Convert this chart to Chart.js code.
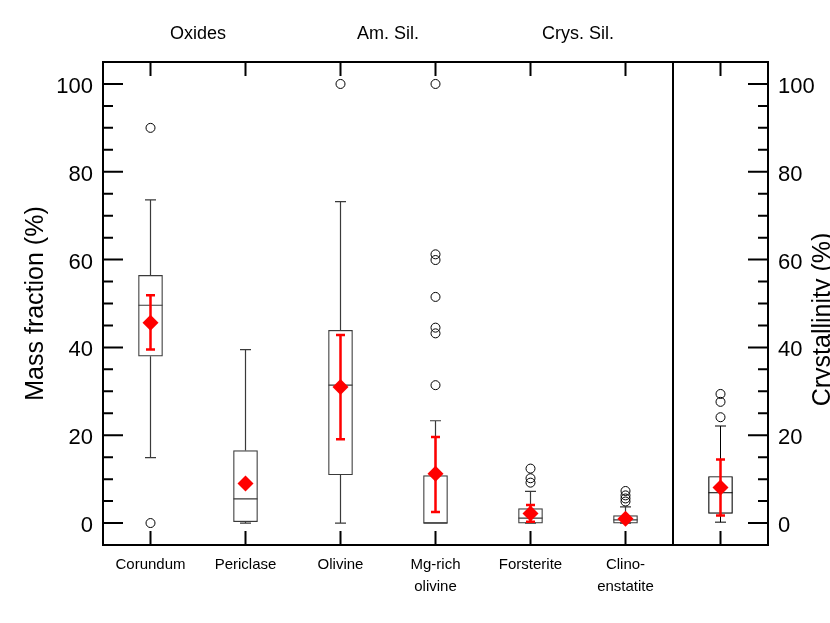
<!DOCTYPE html>
<html lang="en">
<head>
    <meta charset="UTF-8">
    <title>Mass fraction and crystallinity</title>
    <script src="https://cdn.jsdelivr.net/npm/chart.js"></script>
    <style>
        body { margin: 0; background: #fff; }
        .wrap { width: 830px; height: 623px; position: relative; }
    </style>
</head>
<body>
<div class="wrap"><canvas id="boxChart"></canvas></div>
<script>
    // categories (last one is the crystallinity panel, no label under it)
    const categories = ['Corundum', 'Periclase', 'Olivine', 'Mg-rich olivine', 'Forsterite', 'Clino-enstatite', 'Crystallinity'];
    const tickLabels = [['Corundum'], ['Periclase'], ['Olivine'], ['Mg-rich', 'olivine'], ['Forsterite'], ['Clino-', 'enstatite'], ''];
    const groupLabels = ['Oxides', 'Am. Sil.', 'Crys. Sil.'];
    const yTicks = [0, 20, 40, 60, 80, 100];

    // box plot values (%)
    const whiskerLow  = [14.9, 0.0, 0.0, 0.0, 0.0, 0.0, 0.2];
    const q1          = [38.0, 0.3, 11.0, 0.0, 0.0, 0.0, 2.2];
    const median      = [49.6, 5.5, 31.4, 0.0, 1.1, 0.7, 6.9];
    const q3          = [56.4, 16.5, 43.9, 10.8, 3.3, 1.7, 10.6];
    const whiskerHigh = [73.6, 39.5, 73.2, 23.3, 7.2, 3.7, 22.1];
    const outliers = [
        [90.0, 0.0],
        [],
        [100.0],
        [100.0, 61.2, 59.9, 51.5, 44.5, 43.2, 31.4],
        [12.4, 10.2, 9.2],
        [7.3, 6.3, 5.6, 4.9],
        [29.4, 27.6, 24.1]
    ];

    // mean and its error bar
    const meanValues = [45.6, 9.0, 31.0, 11.2, 2.2, 1.0, 8.1];
    const errLow     = [39.5, null, 19.1, 2.5, 0.3, null, 1.7];
    const errHigh    = [51.9, null, 42.8, 19.6, 4.1, null, 14.5];

    const FONT = "'Liberation Sans', Arial, Helvetica, sans-serif";
    const boxLine = '#3a3a3a';

    const boxExtras = {
        id: 'boxExtras',
        afterDatasetDraw(chart, args) {
            if (args.index !== 0) return;
            const ctx = chart.ctx;
            const xs = chart.scales.x, ys = chart.scales.y;
            const half = 12, cap = 5.5;
            ctx.save();
            categories.forEach((c, i) => {
                const px = xs.getPixelForValue(i);
                const last = i === categories.length - 1;
                ctx.strokeStyle = last ? '#000' : boxLine;
                ctx.lineWidth = last ? 1 : 1.2;
                ctx.beginPath();
                // whiskers
                ctx.moveTo(px, ys.getPixelForValue(q3[i]));
                ctx.lineTo(px, ys.getPixelForValue(whiskerHigh[i]));
                ctx.moveTo(px - cap, ys.getPixelForValue(whiskerHigh[i]));
                ctx.lineTo(px + cap, ys.getPixelForValue(whiskerHigh[i]));
                ctx.moveTo(px, ys.getPixelForValue(q1[i]));
                ctx.lineTo(px, ys.getPixelForValue(whiskerLow[i]));
                ctx.moveTo(px - cap, ys.getPixelForValue(whiskerLow[i]));
                ctx.lineTo(px + cap, ys.getPixelForValue(whiskerLow[i]));
                // median
                ctx.moveTo(px - half, ys.getPixelForValue(median[i]));
                ctx.lineTo(px + half, ys.getPixelForValue(median[i]));
                ctx.stroke();

                if (errLow[i] !== null) {
                    const lo = ys.getPixelForValue(errLow[i]);
                    const hi = ys.getPixelForValue(errHigh[i]);
                    ctx.strokeStyle = '#ff0000';
                    ctx.lineWidth = 2.5;
                    ctx.beginPath();
                    ctx.moveTo(px, lo); ctx.lineTo(px, hi);
                    ctx.moveTo(px - 4.5, lo); ctx.lineTo(px + 4.5, lo);
                    ctx.moveTo(px - 4.5, hi); ctx.lineTo(px + 4.5, hi);
                    ctx.stroke();
                }
            });
            ctx.restore();
        },
        afterDraw(chart) {
            const ctx = chart.ctx;
            const {left, right, top, bottom} = chart.chartArea;
            const xs = chart.scales.x, ys = chart.scales.y;
            ctx.save();
            ctx.strokeStyle = '#000';
            ctx.lineWidth = 2;
            ctx.strokeRect(left, top, right - left, bottom - top);

            // panel divider between minerals and crystallinity
            const dx = xs.getPixelForValue(categories.length - 1.5);
            ctx.beginPath();
            ctx.moveTo(dx, top); ctx.lineTo(dx, bottom);
            ctx.stroke();

            // inward ticks
            ctx.beginPath();
            for (let v = 0; v <= 100; v += 5) {
                const py = ys.getPixelForValue(v);
                const len = v % 20 === 0 ? 20 : 10;
                ctx.moveTo(left, py); ctx.lineTo(left + len, py);
                ctx.moveTo(right, py); ctx.lineTo(right - len, py);
            }
            categories.forEach((c, i) => {
                const px = xs.getPixelForValue(i);
                ctx.moveTo(px, top); ctx.lineTo(px, top + 14);
                ctx.moveTo(px, bottom); ctx.lineTo(px, bottom - 14);
            });
            ctx.stroke();

            // axis titles
            ctx.fillStyle = '#000';
            ctx.font = '25px ' + FONT;
            ctx.textAlign = 'center';
            ctx.textBaseline = 'alphabetic';
            ctx.translate(43, (top + bottom) / 2);
            ctx.rotate(-Math.PI / 2);
            ctx.fillText('Mass fraction (%)', 0, 0);
            ctx.setTransform(1, 0, 0, 1, 0, 0);
            ctx.translate(830, (top + bottom) / 2 + 16);
            ctx.rotate(-Math.PI / 2);
            ctx.fillText('Crystallinity (%)', 0, 0);
            ctx.restore();
        }
    };

    const yScale = (pos, width) => ({
        type: 'linear',
        position: pos,
        min: -5,
        max: 105,
        afterBuildTicks: s => { s.ticks = yTicks.map(v => ({value: v})); },
        afterFit: s => { s.width = width; },
        grid: {display: false, drawTicks: false},
        border: {display: false},
        ticks: {font: {family: FONT, size: 22}, color: '#000', padding: 10, labelOffset: 3}
    });

    new Chart(document.getElementById('boxChart'), {
        type: 'bar',
        data: {
            datasets: [
                {
                    label: 'box',
                    order: 3,
                    data: categories.map((c, i) => ({x: i, y: [q1[i], q3[i]]})),
                    backgroundColor: '#fff',
                    borderColor: categories.map((c, i) => i === categories.length - 1 ? '#000' : boxLine),
                    borderWidth: 1.2,
                    borderSkipped: false,
                    barThickness: 24
                },
                {
                    type: 'scatter',
                    label: 'outliers',
                    order: 2,
                    data: outliers.flatMap((arr, i) => arr.map(v => ({x: i, y: v}))),
                    pointStyle: 'circle',
                    pointRadius: 4.5,
                    borderColor: '#000',
                    borderWidth: 1,
                    backgroundColor: 'rgba(0,0,0,0)'
                },
                {
                    type: 'scatter',
                    label: 'mean',
                    order: 1,
                    data: meanValues.map((v, i) => ({x: i, y: v})),
                    pointStyle: 'rectRot',
                    pointRadius: 8,
                    borderWidth: 0,
                    backgroundColor: '#ff0000',
                    borderColor: '#ff0000'
                }
            ]
        },
        options: {
            responsive: true,
            maintainAspectRatio: false,
            animation: false,
            layout: {padding: 0},
            plugins: {legend: {display: false}, tooltip: {enabled: false}},
            scales: {
                x: {
                    type: 'linear',
                    position: 'bottom',
                    offset: false,
                    min: -0.5,
                    max: categories.length - 0.5,
                    afterBuildTicks: s => { s.ticks = categories.map((c, i) => ({value: i})); },
                    afterFit: s => { s.height = 78; },
                    grid: {display: false, drawTicks: false},
                    border: {display: false},
                    ticks: {
                        callback: v => tickLabels[v],
                        font: {family: FONT, size: 15, lineHeight: 1.45},
                        color: '#000', padding: 9, maxRotation: 0, autoSkip: false
                    }
                },
                x2: {
                    type: 'linear',
                    position: 'top',
                    offset: false,
                    min: -0.5,
                    max: categories.length - 0.5,
                    afterBuildTicks: s => { s.ticks = groupLabels.map((g, i) => ({value: 2 * i + 0.5})); },
                    afterFit: s => { s.height = 62; },
                    grid: {display: false, drawTicks: false},
                    border: {display: false},
                    ticks: {
                        callback: (v, i) => groupLabels[i],
                        font: {family: FONT, size: 18},
                        color: '#000', padding: 17, maxRotation: 0, autoSkip: false
                    }
                },
                y: yScale('left', 103),
                y2: yScale('right', 62)
            }
        },
        plugins: [boxExtras]
    });
</script>
</body>
</html>
